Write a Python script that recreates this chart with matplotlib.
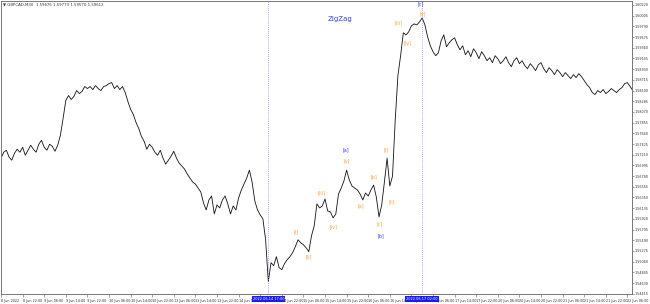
import matplotlib
matplotlib.use("Agg")
import matplotlib.pyplot as plt

# GBPCAD M30 closes, sampled once per hour (hours of trading since 8 Jun 14:00)
price = [
    1.5714, 1.5726, 1.5730, 1.5716, 1.5710, 1.5724, 1.5732, 1.5726, 1.5736, 1.5720,
    1.5730, 1.5740, 1.5732, 1.5726, 1.5742, 1.5750, 1.5736, 1.5730, 1.5742, 1.5738,
    1.5728, 1.5740, 1.5760, 1.5794, 1.5830, 1.5840, 1.5832, 1.5838, 1.5850, 1.5844,
    1.5848, 1.5858, 1.5854, 1.5858, 1.5852, 1.5860, 1.5854, 1.5850, 1.5858, 1.5860,
    1.5864, 1.5866, 1.5854, 1.5860, 1.5852, 1.5858, 1.5846, 1.5828, 1.5812, 1.5802,
    1.5786, 1.5774, 1.5758, 1.5748, 1.5732, 1.5742, 1.5736, 1.5726, 1.5720, 1.5730,
    1.5714, 1.5702, 1.5710, 1.5718, 1.5728, 1.5714, 1.5704, 1.5698, 1.5692, 1.5682,
    1.5674, 1.5666, 1.5662, 1.5654, 1.5646, 1.5624, 1.5610, 1.5630, 1.5638, 1.5602,
    1.5620, 1.5614, 1.5630, 1.5638, 1.5622, 1.5602, 1.5618, 1.5610, 1.5634, 1.5650,
    1.5662, 1.5674, 1.5690, 1.5666, 1.5628, 1.5610, 1.5600, 1.5592, 1.5550, 1.5466,
    1.5504, 1.5498, 1.5516, 1.5494, 1.5490, 1.5502, 1.5510, 1.5516, 1.5524, 1.5536,
    1.5550, 1.5544, 1.5540, 1.5534, 1.5526, 1.5558, 1.5578, 1.5622, 1.5614, 1.5618,
    1.5632, 1.5608, 1.5606, 1.5594, 1.5602, 1.5642, 1.5654, 1.5668, 1.5690, 1.5670,
    1.5658, 1.5654, 1.5650, 1.5642, 1.5630, 1.5644, 1.5638, 1.5650, 1.5660, 1.5636,
    1.5596, 1.5620, 1.5666, 1.5714, 1.5658, 1.5678, 1.5790, 1.5880, 1.5920, 1.5966,
    1.5962, 1.5968, 1.5980, 1.5984, 1.5982, 1.5988, 1.5996, 1.5982, 1.5958, 1.5940,
    1.5928, 1.5920, 1.5926, 1.5950, 1.5962, 1.5938, 1.5946, 1.5952, 1.5956, 1.5942,
    1.5932, 1.5940, 1.5922, 1.5930, 1.5918, 1.5934, 1.5926, 1.5914, 1.5928, 1.5920,
    1.5910, 1.5916, 1.5906, 1.5920, 1.5914, 1.5904, 1.5910, 1.5918, 1.5906, 1.5898,
    1.5910, 1.5916, 1.5904, 1.5910, 1.5900, 1.5894, 1.5904, 1.5898, 1.5890, 1.5902,
    1.5906, 1.5894, 1.5886, 1.5896, 1.5890, 1.5882, 1.5892, 1.5886, 1.5878, 1.5886,
    1.5880, 1.5874, 1.5882, 1.5876, 1.5884, 1.5878, 1.5870, 1.5862, 1.5856, 1.5846,
    1.5842, 1.5850, 1.5846, 1.5852, 1.5844, 1.5848, 1.5854, 1.5850, 1.5846, 1.5852,
    1.5856, 1.5864, 1.5866, 1.5858, 1.5850,
]
hours = list(range(len(price)))

# time axis labels, one every 8 hours
time_labels = [
    "8 Jun 2022", "8 Jun 22:00", "9 Jun 06:00", "9 Jun 14:00", "9 Jun 22:00",
    "10 Jun 06:00", "10 Jun 14:00", "10 Jun 22:00", "13 Jun 06:00", "13 Jun 14:00",
    "13 Jun 22:00", "14 Jun 06:00", "14 Jun 14:00", "14 Jun 22:00", "15 Jun 06:00",
    "15 Jun 14:00", "15 Jun 22:00", "16 Jun 06:00", "16 Jun 14:00", "16 Jun 22:00",
    "17 Jun 06:00", "17 Jun 14:00", "17 Jun 22:00", "20 Jun 06:00", "20 Jun 14:00",
    "20 Jun 22:00", "21 Jun 06:00", "21 Jun 14:00", "21 Jun 22:00", "22 Jun 06:00",
]
price_ticks = [1.60220 - 0.00215 * k for k in range(28)]

# vertical lines (hour index and their date tags)
vline_hours = [99, 156]
vline_tags = ["2022.06.14 17:00", "2022.06.17 02:00"]

# ZigZag wave labels: text, hour, price
orange_text = ["[i]", "[ii]", "[iii]", "[iv]", "[v]", "[a]", "[b]", "[c]",
               "[i]", "[ii]", "[iii]", "[iv]", "[v]"]
orange_hour = [109.3, 114.0, 118.9, 123.3, 128.1, 133.3, 138.1, 140.4,
               142.6, 144.8, 147.4, 150.4, 156.3]
orange_price = [1.5566, 1.5516, 1.5644, 1.5576, 1.5708, 1.5618, 1.5676, 1.5582,
                1.5730, 1.5626, 1.5986, 1.5946, 1.6004]
blue_text = ["[a]", "[b]", "[c]"]
blue_hour = [127.8, 140.7, 155.6]
blue_price = [1.5730, 1.5558, 1.6024]

fig = plt.figure(figsize=(6.5, 3.04), dpi=100)
ax = fig.add_axes([1 / 650, 10 / 304, 631 / 650, 293 / 304])

ax.plot(hours, price, color="#111111", lw=0.6)

for h in vline_hours:
    ax.axvline(h, color="#8c8cff", lw=0.6, ls=(0, (1, 1.5)))
for h, tag in zip(vline_hours, vline_tags):
    ax.text(h, -0.017, tag, transform=ax.get_xaxis_transform(), ha="center", va="center",
            fontsize=2.5, color="white", zorder=5,
            bbox=dict(boxstyle="square,pad=0.3", fc="#1a1aff", ec="none"))

for t, h, p in zip(orange_text, orange_hour, orange_price):
    ax.text(h, p, t, ha="center", va="center", fontsize=3.4, color="#f5a030")
for t, h, p in zip(blue_text, blue_hour, blue_price):
    ax.text(h, p, t, ha="center", va="center", fontsize=3.4, color="#3a3aff")

ax.text(0.537, 0.939, "ZigZag", transform=ax.transAxes, ha="center", va="center",
        fontsize=5, color="#3a3aff")
ax.text(0.003, 0.988, "\u25bc GBPCAD,M30  1.59676 1.59773 1.59570 1.59612",
        transform=ax.transAxes, ha="left", va="center", fontsize=2.8, color="#333333")

ax.set_xlim(0, 233.7)
ax.set_ylim(1.5441, 1.6030)

ax.set_xticks([8 * k for k in range(len(time_labels))])
ax.set_xticklabels(time_labels, ha="left", fontsize=2.4, color="#333333")
ax.yaxis.tick_right()
ax.set_yticks(price_ticks)
ax.set_yticklabels(["%.5f" % v for v in price_ticks], fontsize=2.4, color="#333333")
ax.tick_params(axis="x", length=2, width=0.4, pad=1.5, color="#555555")
ax.tick_params(axis="y", length=1.5, width=0.4, pad=0.6, color="#555555")

for s in ax.spines.values():
    s.set_color("#777777")
    s.set_linewidth(0.7)

fig.savefig("out.png", dpi=100)
